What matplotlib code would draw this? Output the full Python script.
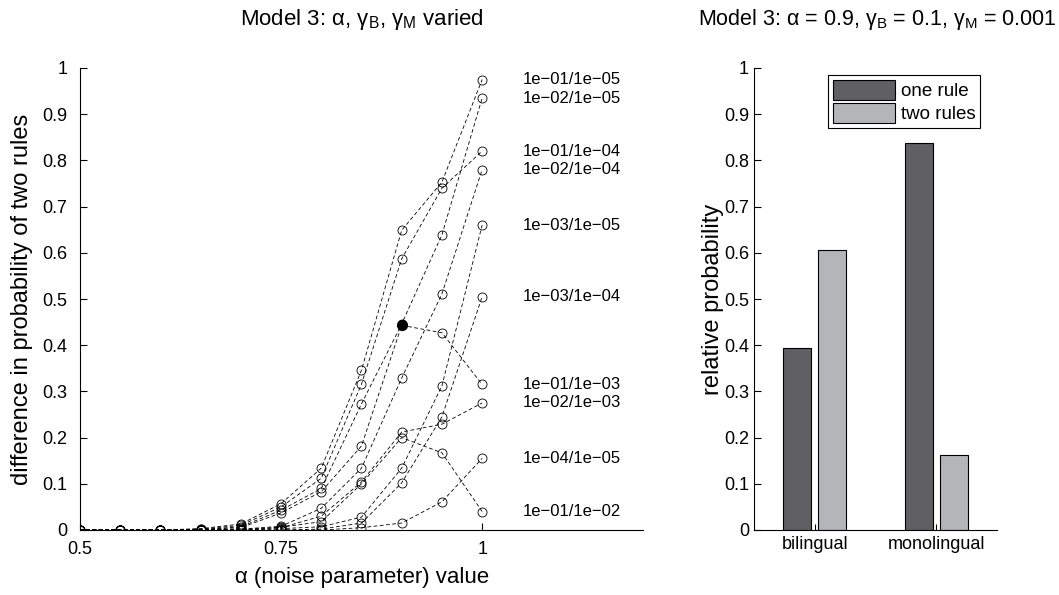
import matplotlib
matplotlib.use("Agg")
import matplotlib.pyplot as plt
import numpy as np

plt.rcParams['font.family'] = ['Liberation Sans', 'DejaVu Sans']
plt.rcParams['font.size'] = 13
plt.rcParams['mathtext.default'] = 'regular'

# valeurs de alpha (bruit)
alpha = [0.5, 0.55, 0.6, 0.65, 0.7, 0.75, 0.8, 0.85, 0.9, 0.95, 1.0]

# difference de probabilite (deux regles), une serie par gammaB/gammaM
d_01_05 = [0, 0, 0, 0.003, 0.013, 0.057, 0.134, 0.346, 0.649, 0.753, 0.975]
d_02_05 = [0, 0, 0, 0.001, 0.007, 0.043, 0.090, 0.273, 0.446, 0.639, 0.935]
d_01_04 = [0, 0, 0, 0.002, 0.010, 0.050, 0.112, 0.316, 0.587, 0.740, 0.820]
d_02_04 = [0, 0, 0, 0, 0.002, 0.008, 0.047, 0.134, 0.329, 0.511, 0.780]
d_03_05 = [0, 0, 0, 0, 0, 0.003, 0.007, 0.028, 0.134, 0.312, 0.660]
d_03_04 = [0, 0, 0, 0, 0, 0, 0.002, 0.015, 0.102, 0.245, 0.505]
d_01_03 = [0, 0, 0, 0.001, 0.005, 0.037, 0.083, 0.182, 0.443, 0.427, 0.315]
d_02_03 = [0, 0, 0, 0, 0.001, 0.005, 0.030, 0.104, 0.212, 0.229, 0.275]
d_04_05 = [0, 0, 0, 0, 0, 0, 0, 0.005, 0.015, 0.061, 0.155]
d_01_02 = [0, 0, 0, 0, 0.001, 0.006, 0.018, 0.100, 0.200, 0.167, 0.040]

series = [
    ("1e\u221201/1e\u221205", d_01_05),
    ("1e\u221202/1e\u221205", d_02_05),
    ("1e\u221201/1e\u221204", d_01_04),
    ("1e\u221202/1e\u221204", d_02_04),
    ("1e\u221203/1e\u221205", d_03_05),
    ("1e\u221203/1e\u221204", d_03_04),
    ("1e\u221201/1e\u221203", d_01_03),
    ("1e\u221202/1e\u221203", d_02_03),
    ("1e\u221204/1e\u221205", d_04_05),
    ("1e\u221201/1e\u221202", d_01_02),
]

# point mis en evidence (alpha = 0.9, gB = 0.1, gM = 0.001)
hl_alpha = 0.9
hl_value = 0.443

# panneau de droite
groups = ["bilingual", "monolingual"]
one_rule = [0.395, 0.838]
two_rules = [0.605, 0.162]

W, H = 1059, 595
fig = plt.figure(figsize=(W / 100, H / 100), dpi=100)

ax1 = fig.add_axes([80 / W, 65 / H, 563 / W, 462 / H])
for lab, vals in series:
    ax1.plot(alpha, vals, color='black', lw=0.6, dashes=(4.5, 3),
             marker='o', ms=6.5, mfc='none', mec='black', mew=0.6)
    ax1.text(1.05, vals[-1], lab, ha='left', va='center', fontsize=12)
ax1.plot([hl_alpha], [hl_value], 'o', ms=7, color='black')

ax1.set_xlim(0.5, 1.2)
ax1.set_ylim(0, 1)
ax1.set_xticks([0.5, 0.75, 1])
ax1.set_xticklabels(["0.5", "0.75", "1"])
ax1.set_yticks(np.arange(0, 1.01, 0.1))
ax1.set_yticklabels(["0"] + ["%.1f" % v for v in np.arange(0.1, 0.95, 0.1)] + ["1"])
ax1.tick_params(axis='x', direction='in', length=5, pad=8)
ax1.tick_params(axis='y', direction='in', length=5, pad=9)
for s in ['top', 'right']:
    ax1.spines[s].set_visible(False)

fig.text(362 / W, 1 - 25 / H, "Model 3: \u03b1, \u03b3$_B$, \u03b3$_M$ varied",
         ha='center', va='baseline', fontsize=16)
fig.text(362 / W, 1 - 578 / H, "\u03b1 (noise parameter) value",
         ha='center', va='center', fontsize=16)
fig.text(22 / W, 1 - 299 / H, "difference in probability of two rules",
         ha='center', va='center', rotation=90, fontsize=17)

ax2 = fig.add_axes([754 / W, 65 / H, 243 / W, 462 / H])
x = np.arange(1, len(groups) + 1)
ax2.bar(x - 0.145, one_rule, width=0.23, color='#606064', edgecolor='black',
        lw=0.8, label='one rule')
ax2.bar(x + 0.145, two_rules, width=0.23, color='#b4b5b9', edgecolor='black',
        lw=0.8, label='two rules')
ax2.set_xlim(0.5, 2.5)
ax2.set_ylim(0, 1)
ax2.set_xticks(x)
ax2.set_xticklabels(groups)
ax2.set_yticks(np.arange(0, 1.01, 0.1))
ax2.set_yticklabels(["0"] + ["%.1f" % v for v in np.arange(0.1, 0.95, 0.1)] + ["1"])
ax2.tick_params(axis='x', direction='in', length=4, pad=4.5)
ax2.tick_params(axis='y', direction='in', length=5, pad=3.6)
for s in ['top', 'right']:
    ax2.spines[s].set_visible(False)
leg = ax2.legend(loc='upper right', bbox_to_anchor=(0.93, 0.985),
                 fancybox=False, framealpha=1, edgecolor='black', fontsize=13.5,
                 handlelength=3.3, handleheight=1.3, handletextpad=0.3,
                 labelspacing=0.15, borderpad=0.25, borderaxespad=0)
leg.get_frame().set_linewidth(0.8)

fig.text(877 / W, 1 - 25 / H,
         "Model 3: \u03b1 = 0.9, \u03b3$_B$ = 0.1, \u03b3$_M$ = 0.001",
         ha='center', va='baseline', fontsize=15.5)
fig.text(713 / W, 1 - 299 / H, "relative probability",
         ha='center', va='center', rotation=90, fontsize=17)

fig.savefig("out.png", dpi=100)
